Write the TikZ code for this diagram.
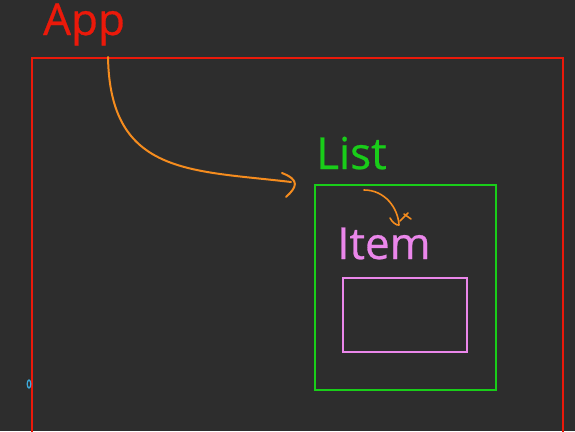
\documentclass[tikz,border=0pt]{standalone}
\usepackage{fontspec}
\setmainfont{Open Sans}
\definecolor{bg}{RGB}{45,45,45}
\definecolor{appred}{RGB}{235,25,10}
\definecolor{listgreen}{RGB}{25,205,25}
\definecolor{itempink}{RGB}{235,135,235}
\definecolor{arroworange}{RGB}{245,140,30}
\definecolor{markblue}{RGB}{60,170,220}
\begin{document}
\begin{tikzpicture}[x=1pt,y=-1pt,
  box/.style={draw,line width=2.3pt,inner sep=0pt,anchor=north west},
  lbl/.style={inner sep=0pt,anchor=base west,font=\fontsize{44}{44}\selectfont\addfontfeature{FakeBold=0.6}},
  pen/.style={draw=arroworange,line width=2pt,line cap=round,line join=round}]
\fill[bg] (0,0) rectangle (575,431);
\useasboundingbox (0,0) rectangle (575,431);
% App frame
\begin{scope}
\clip (0,0) rectangle (575,431);
\node[box,draw=appred,minimum width=531pt,minimum height=400pt] (app) at (31,57) {};
\end{scope}
\node[lbl,text=appred] (applbl) at (43,35) {App};
% List frame
\node[box,draw=listgreen,minimum width=181pt,minimum height=205pt] (list) at (314,184) {};
\node[lbl,text=listgreen] (listlbl) at (316,169) {List};
% Item frame
\node[box,draw=itempink,minimum width=124pt,minimum height=74pt] (item) at (342,277) {};
\node[lbl,text=itempink] (itemlbl) at (337,259) {Item};
% arrow App -> List
\coordinate (a1) at (108,57);
\coordinate (a2) at (291,182);
\draw[pen] (a1) .. controls (110,175) and (190,170) .. (a2);
\draw[pen] (282,173) .. controls (300,180) and (297,187) .. (286,197);
% arrow List -> Item
\coordinate (b1) at (364,190);
\coordinate (b2) at (399,225);
\draw[pen,line width=1.6pt] (b1) .. controls (385,190) and (398,208) .. (b2) .. controls (397,226) and (392,222) .. (390,218);
\draw[pen,line width=1.6pt] (400,221) -- (408,213);
\draw[pen,line width=1.6pt] (404,214) -- (411,219);
% small blue mark
\draw[markblue,line width=1.3pt] (29,384) ellipse (1.8pt and 4pt);
\end{tikzpicture}
\end{document}
